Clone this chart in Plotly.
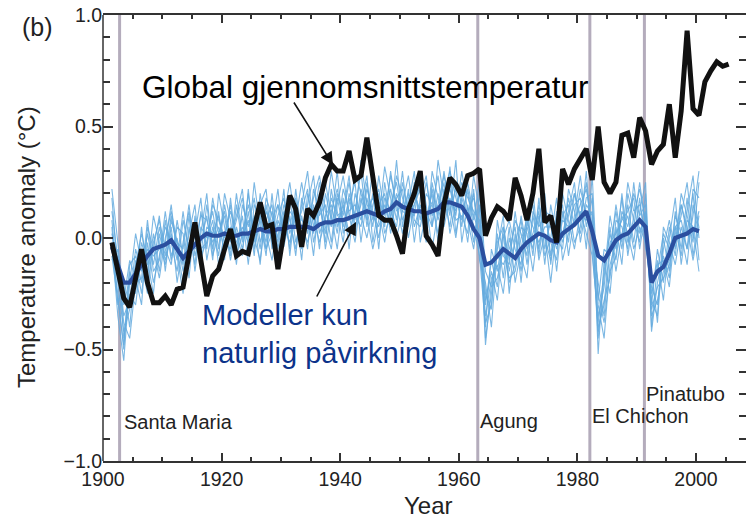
import plotly.graph_objects as go

# ---------------- data ----------------
obs_years = list(range(1901, 2006))
obs_temp = [
    -0.02, -0.15, -0.27, -0.31, -0.18, -0.05, -0.20, -0.29, -0.29, -0.26,
    -0.30, -0.23, -0.22, -0.08, 0.07, -0.10, -0.26, -0.17, -0.14, -0.05,
    0.04, -0.08, -0.06, -0.07, 0.05, 0.16, 0.05, 0.06, -0.14, 0.02,
    0.19, 0.13, -0.04, 0.13, 0.10, 0.16, 0.27, 0.33, 0.30, 0.30,
    0.39, 0.26, 0.28, 0.45, 0.28, 0.10, 0.08, 0.08, 0.01, -0.07,
    0.13, 0.20, 0.30, 0.01, -0.03, -0.08, 0.15, 0.27, 0.24, 0.19,
    0.28, 0.29, 0.31, 0.01, 0.09, 0.14, 0.12, 0.08, 0.27, 0.19,
    0.08, 0.20, 0.40, 0.07, 0.10, -0.02, 0.31, 0.24, 0.31, 0.35,
    0.40, 0.26, 0.50, 0.25, 0.20, 0.25, 0.46, 0.47, 0.36, 0.54,
    0.48, 0.33, 0.39, 0.42, 0.60, 0.36, 0.57, 0.93, 0.58, 0.55,
    0.70, 0.75, 0.79, 0.77, 0.78,
]

model_years = list(range(1901, 2001))
model_mean = [
    -0.04, -0.12, -0.20, -0.20, -0.16, -0.12, -0.08, -0.05, -0.04, -0.03,
    -0.01, -0.05, -0.09, -0.06, -0.03, 0.00, 0.02, 0.01, 0.01, 0.02,
    0.01, 0.01, 0.02, 0.02, 0.03, 0.04, 0.03, 0.03, 0.04, 0.04,
    0.05, 0.05, 0.05, 0.05, 0.04, 0.06, 0.07, 0.07, 0.08, 0.08,
    0.09, 0.10, 0.11, 0.12, 0.11, 0.10, 0.12, 0.13, 0.16, 0.14,
    0.13, 0.12, 0.12, 0.11, 0.12, 0.13, 0.16, 0.16, 0.15, 0.14,
    0.10, 0.04, 0.00, -0.12, -0.11, -0.08, -0.05, -0.07, -0.09, -0.05,
    -0.02, 0.00, 0.02, 0.01, -0.01, -0.02, 0.02, 0.04, 0.06, 0.09,
    0.12, 0.03, -0.08, -0.10, -0.05, -0.01, 0.01, 0.02, 0.05, 0.08,
    0.05, -0.20, -0.15, -0.13, -0.07, 0.00, 0.01, 0.02, 0.04, 0.03,
]

run_01 = [
    0.12, -0.10, -0.35, -0.28, -0.05, -0.15, 0.02, -0.12, 0.05, -0.08,
    0.10, -0.06, -0.20, 0.05, -0.12, 0.12, -0.05, 0.18, 0.02, 0.10,
    -0.08, 0.15, -0.02, 0.20, 0.00, -0.10, 0.12, 0.05, 0.22, -0.04,
    0.10, -0.08, 0.18, 0.02, 0.15, -0.05, 0.20, 0.08, 0.30, 0.02,
    0.15, 0.25, -0.02, 0.18, 0.05, 0.28, 0.10, 0.22, 0.08, 0.30,
    0.05, 0.20, 0.12, -0.02, 0.25, 0.10, 0.30, 0.12, 0.22, 0.05,
    0.25, 0.10, 0.02, -0.30, -0.10, -0.22, 0.05, -0.15, -0.02, 0.08,
    -0.12, 0.10, -0.05, 0.15, -0.08, 0.12, 0.00, 0.18, 0.05, 0.22,
    0.10, 0.05, -0.38, -0.15, 0.02, -0.10, 0.12, 0.05, 0.20, 0.10,
    0.15, -0.30, -0.05, -0.20, 0.05, -0.08, 0.15, 0.02, 0.20, -0.10,
]
run_02 = [
    -0.05, -0.25, -0.50, -0.15, -0.22, 0.05, -0.18, 0.02, -0.15, 0.08,
    -0.10, 0.05, 0.02, -0.18, 0.10, -0.08, 0.15, -0.05, 0.12, -0.10,
    0.18, -0.05, 0.10, -0.12, 0.15, 0.08, -0.08, 0.20, -0.05, 0.12,
    -0.05, 0.22, 0.00, 0.12, -0.08, 0.18, -0.02, 0.22, 0.05, 0.15,
    0.02, 0.12, 0.30, 0.05, 0.20, -0.05, 0.25, 0.08, 0.35, 0.05,
    0.22, -0.02, 0.18, 0.28, 0.05, 0.20, 0.08, 0.32, 0.02, 0.18,
    0.08, -0.05, 0.15, -0.45, -0.25, 0.02, -0.18, 0.05, -0.20, -0.05,
    0.10, -0.08, 0.18, -0.05, 0.08, -0.15, 0.12, -0.02, 0.20, 0.08,
    0.25, -0.02, -0.20, -0.35, -0.05, 0.12, -0.05, 0.15, -0.02, 0.18,
    -0.05, -0.15, -0.38, 0.00, -0.15, 0.12, -0.05, 0.18, -0.08, 0.10,
]
run_03 = [
    0.05, -0.30, -0.20, -0.40, -0.10, -0.25, -0.02, -0.20, -0.08, 0.05,
    -0.02, -0.15, 0.08, -0.05, 0.02, 0.18, -0.10, 0.05, -0.08, 0.15,
    0.00, 0.10, 0.22, -0.05, 0.08, -0.12, 0.15, -0.02, 0.10, 0.18,
    0.02, 0.12, -0.10, 0.20, 0.08, 0.25, 0.05, -0.05, 0.15, 0.28,
    0.10, -0.02, 0.18, 0.08, 0.32, 0.12, -0.02, 0.15, 0.25, 0.08,
    0.15, 0.30, -0.02, 0.12, 0.05, 0.35, 0.18, 0.05, 0.25, 0.15,
    -0.02, 0.22, -0.10, -0.20, -0.40, -0.05, 0.10, -0.25, 0.02, -0.15,
    0.05, 0.15, -0.10, 0.02, -0.20, 0.05, 0.15, -0.08, 0.10, 0.28,
    0.05, 0.18, -0.52, -0.10, -0.25, 0.05, -0.12, 0.20, 0.08, -0.02,
    0.20, -0.42, -0.20, -0.08, -0.18, 0.10, 0.02, -0.12, 0.15, 0.05,
]
run_04 = [
    -0.10, -0.05, -0.45, -0.25, -0.30, -0.08, -0.15, 0.10, -0.02, -0.12,
    0.05, -0.20, -0.02, 0.12, -0.05, -0.02, 0.10, -0.10, 0.20, 0.05,
    -0.10, 0.05, -0.05, 0.12, -0.08, 0.20, 0.02, -0.10, 0.08, 0.00,
    0.18, -0.02, 0.10, -0.05, 0.22, 0.10, 0.15, -0.02, 0.20, 0.10,
    0.25, 0.05, 0.15, 0.28, -0.02, 0.15, 0.20, 0.02, 0.18, 0.22,
    0.00, 0.15, 0.25, 0.08, 0.20, -0.02, 0.15, 0.22, 0.10, 0.30,
    0.12, 0.18, 0.05, -0.35, -0.18, -0.12, -0.25, 0.00, -0.10, 0.10,
    -0.05, 0.02, 0.12, -0.12, 0.15, 0.00, -0.05, 0.22, 0.12, 0.02,
    0.18, 0.20, -0.30, -0.45, -0.12, -0.02, 0.18, -0.08, 0.10, 0.22,
    0.08, -0.22, -0.30, -0.05, 0.08, -0.05, 0.20, 0.10, -0.02, 0.25,
]
run_05 = [
    0.18, -0.15, -0.28, -0.10, -0.18, -0.30, 0.05, -0.05, -0.18, 0.00,
    0.12, -0.02, -0.12, 0.10, -0.15, 0.05, 0.00, 0.12, -0.05, 0.20,
    0.08, -0.12, 0.15, 0.05, 0.18, -0.02, 0.08, 0.15, -0.10, 0.10,
    0.25, 0.05, 0.12, 0.22, -0.02, 0.12, 0.25, 0.10, -0.05, 0.18,
    -0.05, 0.20, 0.10, 0.00, 0.15, 0.22, 0.05, 0.30, 0.12, 0.15,
    0.28, 0.08, 0.05, 0.20, 0.15, 0.02, 0.22, 0.10, 0.35, -0.02,
    0.15, -0.02, 0.20, -0.25, -0.32, 0.08, -0.08, -0.12, 0.12, -0.08,
    -0.18, 0.12, 0.05, 0.10, -0.02, -0.10, 0.20, 0.08, -0.05, 0.12,
    0.02, -0.08, -0.35, -0.22, 0.05, -0.15, 0.02, 0.10, -0.05, 0.05,
    -0.02, -0.25, -0.10, -0.28, 0.00, 0.18, -0.12, 0.08, 0.05, -0.15,
]
run_06 = [
    -0.02, -0.35, -0.55, -0.20, 0.02, -0.12, -0.25, -0.02, 0.08, -0.05,
    -0.12, 0.08, -0.08, -0.10, 0.08, -0.05, -0.02, 0.08, -0.12, 0.02,
    0.12, 0.02, -0.08, 0.22, -0.05, 0.10, -0.02, 0.12, 0.00, 0.22,
    -0.08, 0.15, 0.05, -0.02, 0.10, -0.02, 0.08, 0.30, 0.12, -0.02,
    0.20, 0.10, 0.05, 0.22, 0.12, 0.00, 0.18, 0.12, 0.05, 0.25,
    0.12, 0.10, 0.30, 0.15, -0.05, 0.12, 0.25, 0.02, 0.15, 0.22,
    0.20, 0.05, -0.08, -0.40, -0.05, -0.15, 0.02, -0.20, -0.12, 0.05,
    0.02, -0.15, 0.08, 0.20, -0.12, 0.10, 0.02, 0.12, 0.25, -0.02,
    0.15, 0.10, -0.42, -0.28, -0.18, 0.08, 0.05, -0.05, 0.25, 0.02,
    0.10, -0.35, -0.28, -0.15, -0.10, -0.02, 0.10, 0.25, 0.00, 0.12,
]
run_07 = [
    0.08, -0.20, -0.42, -0.32, -0.12, 0.02, -0.10, -0.25, 0.02, -0.10,
    0.02, -0.10, 0.12, -0.08, -0.02, 0.10, 0.08, -0.02, 0.05, -0.05,
    0.05, -0.02, 0.05, -0.02, 0.25, 0.05, -0.05, 0.08, 0.15, -0.02,
    0.12, 0.08, 0.25, 0.08, 0.02, 0.20, -0.05, 0.12, 0.22, 0.08,
    0.08, 0.30, 0.20, 0.10, -0.05, 0.08, 0.32, 0.18, 0.00, 0.12,
    0.20, 0.05, 0.15, 0.00, 0.30, 0.18, 0.10, 0.25, 0.08, 0.10,
    0.02, 0.28, 0.12, -0.28, -0.15, -0.28, 0.00, 0.08, -0.05, -0.12,
    0.12, 0.05, -0.02, 0.05, 0.05, -0.05, 0.08, 0.05, 0.15, 0.18,
    -0.05, 0.28, -0.28, -0.05, -0.08, 0.15, -0.02, 0.25, 0.12, 0.15,
    0.02, -0.18, -0.15, 0.02, -0.05, 0.05, -0.08, 0.12, 0.28, 0.00,
]
run_08 = [
    0.02, -0.12, -0.38, -0.45, -0.20, -0.18, 0.08, -0.15, -0.10, 0.12,
    -0.08, 0.00, -0.15, 0.02, 0.15, -0.12, 0.05, 0.02, 0.10, -0.02,
    -0.05, 0.20, 0.00, 0.08, -0.02, 0.15, 0.22, -0.05, 0.05, 0.08,
    0.05, 0.18, -0.05, 0.15, 0.28, 0.02, 0.10, 0.15, 0.02, 0.22,
    0.12, 0.15, 0.08, 0.25, 0.08, 0.20, 0.02, 0.10, 0.28, 0.18,
    0.08, 0.25, 0.20, 0.10, 0.15, 0.28, 0.05, 0.18, 0.12, 0.25,
    0.18, 0.12, 0.08, -0.48, -0.20, -0.08, -0.12, -0.05, 0.05, -0.20,
    0.08, -0.02, 0.10, -0.08, 0.00, 0.18, -0.10, 0.02, 0.08, 0.15,
    0.22, 0.05, -0.45, -0.18, 0.10, -0.05, 0.10, 0.02, -0.10, 0.12,
    0.25, -0.40, -0.12, -0.10, -0.22, 0.05, 0.08, -0.05, 0.10, 0.30,
]
run_09 = [
    0.22, -0.02, -0.30, -0.18, -0.25, -0.02, -0.12, -0.05, 0.10, -0.15,
    0.08, -0.02, -0.05, 0.15, -0.08, 0.02, 0.20, -0.08, 0.02, 0.12,
    -0.02, 0.08, 0.18, 0.00, 0.10, -0.05, 0.18, 0.10, -0.02, 0.15,
    0.08, -0.05, 0.15, 0.30, 0.05, 0.15, 0.02, 0.18, 0.10, 0.12,
    0.28, 0.02, 0.22, 0.12, 0.18, 0.10, 0.12, 0.28, 0.15, 0.02,
    0.18, 0.22, 0.08, 0.25, 0.10, 0.15, 0.28, 0.15, 0.00, 0.20,
    0.10, 0.20, -0.02, -0.38, -0.30, -0.02, 0.05, -0.10, 0.08, 0.02,
    -0.08, 0.22, -0.08, 0.12, 0.10, -0.02, 0.10, 0.15, -0.02, 0.05,
    0.30, -0.05, -0.40, -0.30, -0.02, 0.02, 0.08, 0.12, 0.18, -0.05,
    0.12, -0.28, -0.35, 0.05, -0.02, -0.12, 0.05, -0.05, 0.22, 0.18,
]
run_10 = [
    -0.08, -0.28, -0.48, -0.12, -0.08, -0.20, -0.05, -0.08, -0.05, -0.02,
    0.15, -0.08, -0.25, -0.02, 0.00, -0.08, -0.02, 0.15, 0.08, 0.00,
    0.15, -0.08, 0.02, 0.15, 0.02, 0.12, -0.05, 0.02, 0.15, 0.05,
    -0.02, 0.10, 0.08, 0.05, 0.18, 0.28, 0.12, 0.05, 0.18, 0.05,
    0.18, 0.08, 0.35, 0.15, 0.10, 0.05, 0.15, 0.05, 0.20, 0.12,
    0.10, 0.15, 0.22, 0.05, 0.22, 0.08, 0.20, 0.30, 0.18, 0.08,
    0.22, 0.08, 0.25, -0.15, -0.22, -0.18, -0.05, -0.18, -0.15, 0.00,
    0.05, -0.05, 0.15, 0.00, -0.10, 0.08, -0.02, 0.10, 0.20, 0.10,
    0.08, 0.12, -0.25, -0.38, -0.15, -0.08, 0.20, -0.02, 0.05, 0.25,
    0.05, -0.32, -0.22, -0.18, -0.12, 0.02, 0.15, 0.05, -0.10, 0.05,
]
model_runs = [run_01, run_02, run_03, run_04, run_05,
              run_06, run_07, run_08, run_09, run_10]

volcano_names = ["Santa Maria", "Agung", "El Chichon", "Pinatubo"]
volcano_years = [1902.8, 1963.2, 1982.1, 1991.3]

x_ticks = [1900, 1920, 1940, 1960, 1980, 2000]
y_ticks = [-1.0, -0.5, 0.0, 0.5, 1.0]

# ---------------- figure ----------------
FONT = "Liberation Sans, Arial, sans-serif"
fig = go.Figure()

mid = 0.5  # annual values plotted at mid-year
for run in model_runs:
    fig.add_trace(go.Scatter(
        x=[y + mid for y in model_years], y=run, mode="lines",
        line=dict(color="rgba(100,170,222,0.85)", width=1.1),
        hoverinfo="skip", showlegend=False))

fig.add_trace(go.Scatter(
    x=[y + mid for y in model_years], y=model_mean, mode="lines",
    line=dict(color="#2b4f9f", width=4.2), showlegend=False))

fig.add_trace(go.Scatter(
    x=[y + mid for y in obs_years], y=obs_temp, mode="lines",
    line=dict(color="#111111", width=5), showlegend=False))

# volcanic eruption markers
for yr in volcano_years:
    fig.add_shape(type="line", xref="x", yref="paper", x0=yr, x1=yr, y0=0, y1=1,
                  line=dict(color="#b4acbc", width=3), layer="below")

# left axis line
fig.add_shape(type="line", xref="paper", yref="paper", x0=0, x1=0, y0=0, y1=1,
              line=dict(color="#333333", width=1.5))

L, R, T, B = 103, 746, 15, 461
W, H = 746, 518
def px(xp):
    return (xp - L) / (R - L)
def py(yp):
    return (B - yp) / (B - T)

ann = []
label_pos = [(122, 422), (478, 421), (590, 416), (644, 394)]
for name, (lx, ly) in zip(volcano_names, label_pos):
    ann.append(dict(text=name, xref="paper", yref="paper", x=px(lx), y=py(ly),
                    xanchor="left", yanchor="middle", showarrow=False,
                    font=dict(size=20, color="#222222", family=FONT)))

ann.append(dict(text="Global gjennomsnittstemperatur", xref="paper", yref="paper",
                x=px(140), y=py(87), xanchor="left", yanchor="middle", showarrow=False,
                font=dict(size=31.5, color="#000000", family=FONT)))
ann.append(dict(text="Modeller kun<br>naturlig påvirkning", xref="paper", yref="paper",
                x=px(200), y=py(334), xanchor="left", yanchor="middle", align="left",
                showarrow=False, font=dict(size=29, color="#0c338a", family=FONT)))
# arrows
ann.append(dict(text="", xref="paper", yref="paper", x=px(333), y=py(165),
                ax=-40, ay=-64, showarrow=True, arrowhead=2, arrowsize=1.6,
                arrowwidth=1.6, arrowcolor="#111111"))
ann.append(dict(text="", xref="paper", yref="paper", x=px(356), y=py(222),
                ax=-40, ay=76, showarrow=True, arrowhead=2, arrowsize=1.6,
                arrowwidth=1.6, arrowcolor="#111111"))
# panel label and axis titles
ann.append(dict(text="(b)", xref="paper", yref="paper", x=px(37), y=py(27),
                xanchor="center", yanchor="middle", showarrow=False,
                font=dict(size=25, color="#222222", family=FONT)))
ann.append(dict(text="Temperature anomaly (°C)", xref="paper", yref="paper",
                x=px(27), y=py(247), xanchor="center", yanchor="middle", textangle=-90,
                showarrow=False, font=dict(size=24, color="#222222", family=FONT)))
ann.append(dict(text="Year", xref="paper", yref="paper", x=px(428), y=py(505),
                xanchor="center", yanchor="middle", showarrow=False, borderpad=0,
                font=dict(size=24, color="#222222", family=FONT)))

fig.update_layout(
    width=W, height=H,
    margin=dict(l=L, r=W - R, t=T, b=H - B, pad=0),
    paper_bgcolor="white", plot_bgcolor="white",
    font=dict(family=FONT, color="#222222"),
    showlegend=False,
    annotations=ann,
    xaxis=dict(range=[1900, 1900 + (R - L) / 5.93], tickvals=x_ticks,
               ticks="inside", ticklen=8, tickwidth=1.5, tickcolor="#333333",
               showline=True, linecolor="#333333", linewidth=1.5, mirror="ticks",
               showgrid=False, zeroline=False,
               tickfont=dict(size=19.5, color="#222222", family=FONT),
               minor=dict(dtick=5, tick0=1900, ticks="inside", ticklen=4,
                          tickwidth=1.5, tickcolor="#333333", showgrid=False)),
    yaxis=dict(range=[-1, 1], tickvals=y_ticks, tickformat=".1f",
               ticks="inside", ticklen=10, tickwidth=1.5, tickcolor="#333333",
               showline=False, mirror="ticks",
               showgrid=False, zeroline=False,
               tickfont=dict(size=19.5, color="#222222", family=FONT),
               minor=dict(dtick=0.1, tick0=0, ticks="inside", ticklen=7,
                          tickwidth=1.5, tickcolor="#333333", showgrid=False)),
)

fig.write_html("out.html", config={"displayModeBar": False},
               post_script="document.body.style.margin='0px';document.body.style.overflow='hidden';")
